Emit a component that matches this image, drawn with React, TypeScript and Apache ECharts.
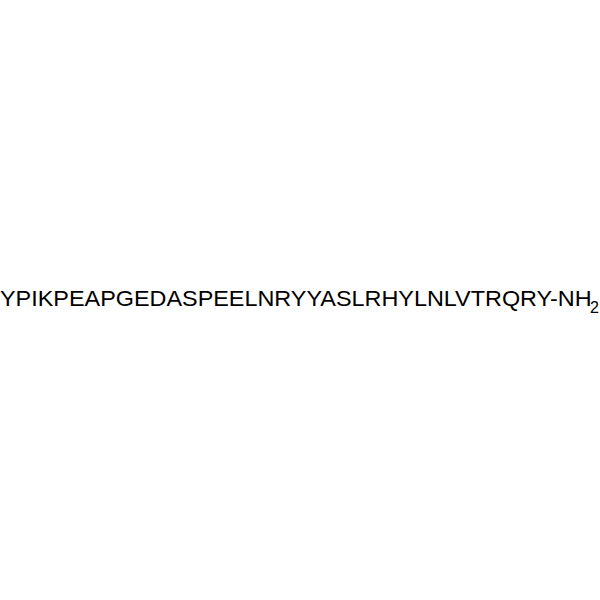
import React, { useEffect, useRef } from "react";
import * as echarts from "echarts";

const mainText = "YPIKPEAPGEDASPEELNRYYASLRHYLNLVTRQRY-NH";
const subText = "2";

export default function App() {
  const ref = useRef<HTMLDivElement>(null);
  useEffect(() => {
    if (!ref.current) return;
    const chart = echarts.init(ref.current, undefined, { renderer: "svg" });
    chart.setOption({
      animation: false,
      backgroundColor: "#ffffff",
      graphic: [
        {
          type: "text",
          x: 0,
          y: 298,
          scaleX: 1.064,
          originX: 0,
          style: {
            text: mainText,
            fontSize: 22,
            fontFamily: "Liberation Sans",
            fill: "#000",
            align: "left",
            verticalAlign: "middle",
          },
        },
        {
          type: "text",
          x: 590,
          y: 307.5,
          style: {
            text: subText,
            fontSize: 16,
            fontFamily: "Liberation Sans",
            fill: "#000",
            align: "left",
            verticalAlign: "middle",
          },
        },
      ],
    });
    return () => chart.dispose();
  }, []);
  return (
    <div
      ref={ref}
      style={{ position: "fixed", left: 0, top: 0, width: 600, height: 600 }}
    />
  );
}
